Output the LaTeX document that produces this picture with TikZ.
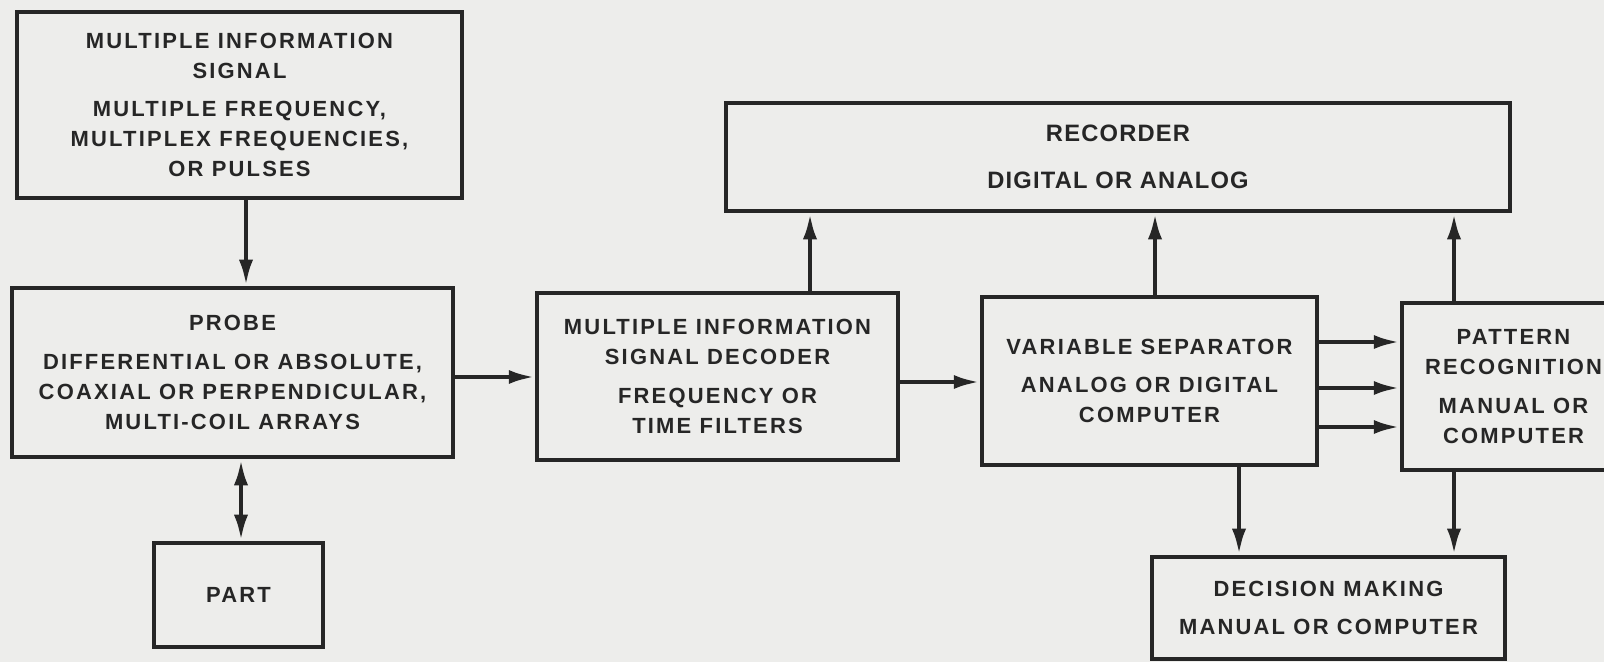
\documentclass[tikz,border=0pt]{standalone}
\usepackage{fontspec}
\usetikzlibrary{arrows.meta}
\newfontfamily\lblfont{Liberation Sans Bold}[LetterSpace=10]
\newfontfamily\recfont{Liberation Sans Bold}[LetterSpace=5]
\definecolor{paper}{HTML}{EDEDEB}
\definecolor{ink}{HTML}{262626}

\begin{document}
\begin{tikzpicture}[x=.02cm,y=-.02cm,>={Latex[length=15pt,width=8pt]},
 blk/.style={draw=ink,line width=2.2pt,inner sep=0pt,align=center,text=ink,font=\lblfont\fontsize{12.5}{17}\selectfont},
 recblk/.style={blk,font=\recfont\fontsize{13.5}{26.7}\selectfont},
 flow/.style={->,draw=ink,line width=2.6pt}]
 \fill[paper](0,0)rectangle(1604,662);
 \useasboundingbox(0,0)rectangle(1604,662);
 % blocks
 \node[blk,minimum width=8.9cm,minimum height=3.72cm](sig)at(239.5,105){MULTIPLE INFORMATION\\SIGNAL\\[5pt]MULTIPLE FREQUENCY,\\MULTIPLEX FREQUENCIES,\\OR PULSES};
 \node[blk,minimum width=8.82cm,minimum height=3.38cm](probe)at(232.5,372.5){PROBE\\[5pt]DIFFERENTIAL OR ABSOLUTE,\\COAXIAL OR PERPENDICULAR,\\MULTI-COIL ARRAYS};
 \node[blk,minimum width=3.38cm,minimum height=2.08cm](part)at(238.5,595){PART};
 \node[blk,minimum width=7.22cm,minimum height=3.34cm](dec)at(717.5,376.5){MULTIPLE INFORMATION\\SIGNAL DECODER\\[5pt]FREQUENCY OR\\TIME FILTERS};
 \node[recblk,minimum width=15.68cm,minimum height=2.16cm](rec)at(1118,157){RECORDER\\DIGITAL OR ANALOG};
 \node[blk,minimum width=6.7cm,minimum height=3.36cm](sep)at(1149.5,381){VARIABLE SEPARATOR\\[5pt]ANALOG OR DIGITAL\\COMPUTER};
 \node[blk,minimum width=4.46cm,minimum height=3.34cm](pat)at(1513.5,386.5){PATTERN\\RECOGNITION\\[5pt]MANUAL OR\\COMPUTER};
 \node[blk,minimum width=7.06cm,minimum height=2.04cm](dcs)at(1328.5,608){DECISION MAKING\\[5pt]MANUAL OR COMPUTER};
 % connectors
 \draw[flow](sig.south-|246,0)--(probe.north-|246,0);
 \draw[flow,<->](probe.south-|241,0)--(part.north-|241,0);
 \draw[flow](probe.east|-0,377)--(dec.west|-0,377);
 \draw[flow](dec.east|-0,382)--(sep.west|-0,382);
 \draw[flow](dec.north-|810,0)--(rec.south-|810,0);
 \draw[flow](sep.north-|1155,0)--(rec.south-|1155,0);
 \draw[flow](pat.north-|1454,0)--(rec.south-|1454,0);
 \foreach \yy in {342,388,427}
  \draw[flow](sep.east|-0,\yy)--(pat.west|-0,\yy);
 \draw[flow](sep.south-|1239,0)--(dcs.north-|1239,0);
 \draw[flow](pat.south-|1454,0)--(dcs.north-|1454,0);
\end{tikzpicture}
\end{document}
